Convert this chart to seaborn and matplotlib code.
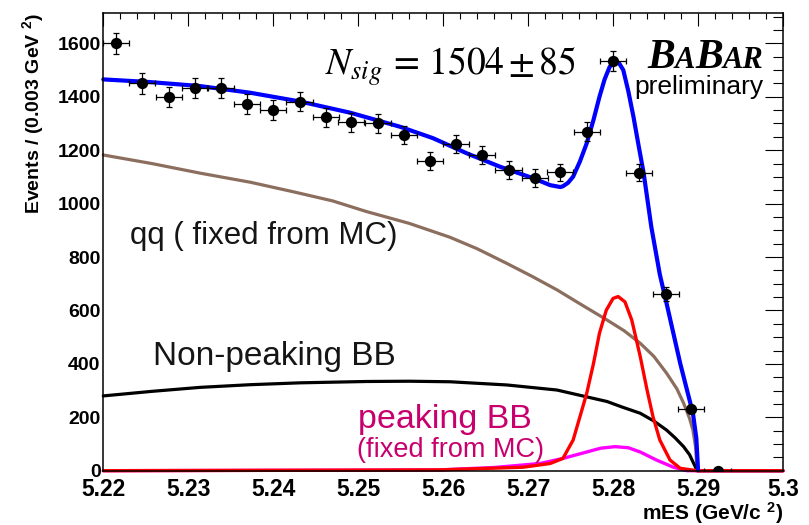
import numpy as np
import pandas as pd
import matplotlib
matplotlib.use("Agg")
import matplotlib.pyplot as plt
import seaborn as sns
from matplotlib.ticker import MultipleLocator, FixedLocator, FixedFormatter

# ---------------- data ----------------
data_x = [5.2215, 5.2246, 5.2277, 5.2308, 5.2338, 5.2369, 5.2400, 5.2431,
          5.2462, 5.2492, 5.2523, 5.2554, 5.2585, 5.2615, 5.2646, 5.2677,
          5.2708, 5.2738, 5.2769, 5.2800, 5.2831, 5.2862, 5.2892, 5.2923]
data_y = [1600, 1450, 1398, 1432, 1434, 1373, 1350, 1382,
          1323, 1304, 1300, 1257, 1160, 1223, 1182, 1126,
          1095, 1117, 1269, 1534, 1116, 662, 232, 0]
data_yerr = [40, 38, 37, 38, 38, 37, 37, 37,
             36, 36, 36, 35, 34, 35, 34, 34,
             33, 33, 36, 39, 33, 26, 15, 1]
data_xerr = 0.00154

total_x = [5.2200, 5.2255, 5.2314, 5.2373, 5.2432, 5.2491, 5.2549, 5.2588,
           5.2628, 5.2667, 5.2706, 5.2726, 5.2738, 5.2741, 5.2747, 5.2753,
           5.2761, 5.2769, 5.2777, 5.2784, 5.2790, 5.2796, 5.2802, 5.2807,
           5.2812, 5.2818, 5.2824, 5.2830, 5.2836, 5.2845, 5.2855, 5.2863,
           5.2871, 5.2879, 5.2887, 5.2894, 5.2898, 5.2900]
total_y = [1465, 1455, 1440, 1415, 1382, 1340, 1288, 1245,
           1188, 1138, 1095, 1069, 1062, 1065, 1078, 1101,
           1158, 1226, 1314, 1400, 1465, 1512, 1531, 1526,
           1500, 1420, 1325, 1218, 1114, 913, 735, 626,
           514, 402, 302, 215, 121, 3]

qq_x = [5.2200, 5.2257, 5.2314, 5.2373, 5.2424, 5.2470, 5.2510, 5.2560,
        5.2608, 5.2640, 5.2675, 5.2705, 5.2734, 5.2763, 5.2793, 5.2813,
        5.2832, 5.2848, 5.2863, 5.2875, 5.2883, 5.2890, 5.2894, 5.2897,
        5.2899, 5.3000]
qq_y = [1182, 1150, 1114, 1080, 1044, 1010, 970, 926,
        874, 831, 776, 727, 677, 621, 564, 524,
        477, 428, 365, 307, 253, 196, 152, 91,
        0, 0]

bb_x = [5.2200, 5.2257, 5.2314, 5.2373, 5.2432, 5.2510, 5.2560, 5.2608,
        5.2675, 5.2734, 5.2760, 5.2793, 5.2810, 5.2832, 5.2848, 5.2863,
        5.2873, 5.2883, 5.2890, 5.2894, 5.2899, 5.3000]
bb_y = [280, 297, 312, 322, 329, 334, 335, 333,
        321, 302, 283, 259, 239, 215, 186, 152,
        123, 90, 60, 33, 0, 0]

sig_x = [5.2200, 5.2500, 5.2596, 5.2694, 5.2726, 5.2741, 5.2753, 5.2761,
         5.2769, 5.2777, 5.2784, 5.2792, 5.2800, 5.2806, 5.2814, 5.2822,
         5.2832, 5.2840, 5.2847, 5.2855, 5.2867, 5.2879, 5.2899, 5.3000]
sig_y = [0, 2, 3, 13, 27, 46, 115, 202,
         290, 402, 515, 601, 645, 652, 632, 564,
         427, 302, 202, 115, 40, 9, 0, 0]

pk_x = [5.2200, 5.2596, 5.2660, 5.2714, 5.2741, 5.2769, 5.2785, 5.2802,
        5.2818, 5.2832, 5.2851, 5.2871, 5.2887, 5.3000]
pk_y = [0, 3, 12, 27, 46, 70, 84, 90,
        86, 70, 40, 13, 0, 0]

x_ticks = [5.22, 5.23, 5.24, 5.25, 5.26, 5.27, 5.28, 5.29, 5.30]
x_tick_labels = ["5.22", "5.23", "5.24", "5.25", "5.26", "5.27", "5.28", "5.29", "5.3"]
y_ticks = [0, 200, 400, 600, 800, 1000, 1200, 1400, 1600]

# ---------------- style ----------------
sns.set_theme(style="white")
plt.rcParams["font.family"] = ["Liberation Sans", "DejaVu Sans"]
plt.rcParams["mathtext.fontset"] = "custom"
plt.rcParams["mathtext.rm"] = "Liberation Sans"
plt.rcParams["mathtext.bf"] = "Liberation Sans:bold"
plt.rcParams["mathtext.it"] = "Liberation Sans:italic"

W, H = 809, 525
fig = plt.figure(figsize=(W / 100, H / 100), dpi=100)
L, R, B, T = 103.3, 783.0, 470.7, 12.7
ax = fig.add_axes([L / W, 1 - B / H, (R - L) / W, (B - T) / H])

def fx(px):
    return px / W

def fy(py):
    return 1 - py / H

# curves
sns.lineplot(x=qq_x, y=qq_y, ax=ax, color="#8c6e5f", lw=2.3, estimator=None, sort=False)
sns.lineplot(x=bb_x, y=bb_y, ax=ax, color="black", lw=2.3, estimator=None, sort=False)
sns.lineplot(x=pk_x, y=pk_y, ax=ax, color="#ff00ff", lw=2.4, estimator=None, sort=False)
sns.lineplot(x=sig_x, y=sig_y, ax=ax, color="#ff0000", lw=2.4, estimator=None, sort=False)
sns.lineplot(x=total_x, y=total_y, ax=ax, color="#0000ff", lw=3.0, estimator=None, sort=False)
for ln in ax.get_lines():
    ln.set_clip_on(False)
    ln.set_solid_joinstyle("round")

# data points
ax.errorbar(data_x, data_y, yerr=data_yerr, xerr=data_xerr, fmt="none",
            ecolor="black", elinewidth=0.9, capsize=2.2, capthick=0.9, zorder=5)
sns.scatterplot(x=data_x, y=data_y, ax=ax, color="black", s=66, edgecolor="black",
                linewidth=0, zorder=6)

ax.set_xlim(5.22, 5.30)
ax.set_ylim(0, (B - T) / 0.2671)

ax.xaxis.set_major_locator(FixedLocator(x_ticks))
ax.xaxis.set_major_formatter(FixedFormatter(x_tick_labels))
ax.xaxis.set_minor_locator(MultipleLocator(0.002))
ax.yaxis.set_major_locator(FixedLocator(y_ticks))
ax.yaxis.set_minor_locator(MultipleLocator(50))

ax.tick_params(axis="both", which="both", direction="in", top=True, right=True,
               color="black", width=0.8)
ax.tick_params(axis="x", which="major", length=9.4, pad=5, labelsize=16.5)
ax.tick_params(axis="x", which="minor", length=4.5)
ax.tick_params(axis="y", which="major", length=13, pad=2, labelsize=14)
ax.tick_params(axis="y", which="minor", length=7)
for lab in ax.get_xticklabels() + ax.get_yticklabels():
    lab.set_fontweight("bold")
    lab.set_color("black")

for s in ax.spines.values():
    s.set_color("black")
    s.set_linewidth(1.1)

ax.set_xlabel(r"mES (GeV/c $^{\mathbf{2}}$)", fontsize=15, fontweight="bold",
              ha="right", color="black")
ax.xaxis.set_label_coords(1.0, (B - 500) / (B - T))
ax.set_ylabel(r"Events / (0.003 GeV $^{\mathbf{2}}$)", fontsize=14, fontweight="bold",
              ha="right", color="black")
ax.yaxis.set_label_coords((46 - L) / (R - L), 1.0)

# annotations
fig.text(fx(130), fy(244), "qq ( fixed from MC)", fontsize=22.5, color="#151515", va="baseline")
fig.text(fx(153), fy(365), "Non-peaking BB", fontsize=24, color="#151515", va="baseline")
fig.text(fx(358), fy(428), "peaking BB", fontsize=24.5, color="#c8006e", va="baseline")
fig.text(fx(357), fy(457), "(fixed from MC)", fontsize=19.5, color="#c8006e", va="baseline")

fig.text(fx(325), fy(75), r"$N_{sig}\,{=}\,1504\,{\pm}\,85$", fontsize=27, color="black",
         va="baseline", math_fontfamily="stix")

serif = dict(family="Liberation Serif", weight="bold", style="italic", color="black", va="baseline")
fig.text(fx(647), fy(68), "B", fontsize=30, **serif)
fig.text(fx(675), fy(68), "A", fontsize=22, **serif)
fig.text(fx(695), fy(68), "B", fontsize=30, **serif)
fig.text(fx(723), fy(68), "AR", fontsize=22, **serif)
fig.text(fx(763), fy(94), "preliminary", fontsize=19, color="black", ha="right", va="baseline")

fig.savefig("out.png", dpi=100, facecolor="white")
